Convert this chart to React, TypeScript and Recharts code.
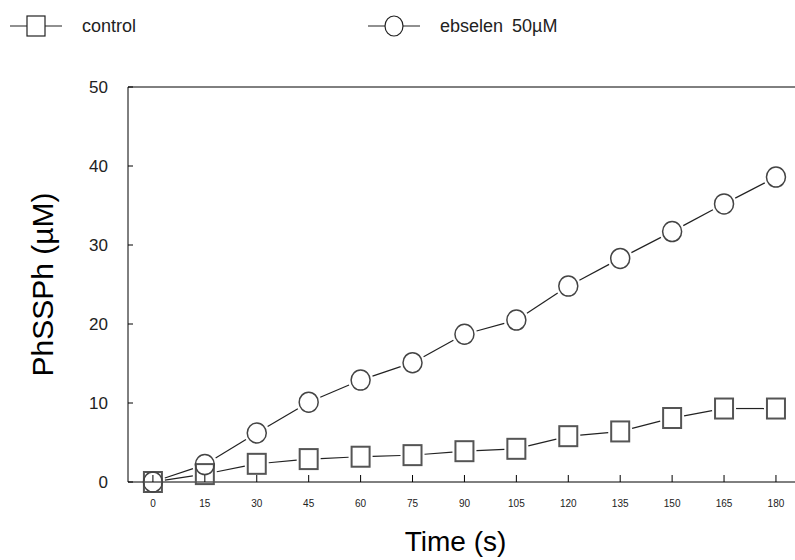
import React from 'react';
import { LineChart, Line, XAxis, YAxis, ReferenceLine } from 'recharts';

// time points (s)
const times = [0, 15, 30, 45, 60, 75, 90, 105, 120, 135, 150, 165, 180];
// PhSSPh (µM)
const controlValues = [0, 1.0, 2.3, 2.9, 3.2, 3.4, 3.9, 4.2, 5.8, 6.4, 8.1, 9.3, 9.3];
const ebselenValues = [0, 2.2, 6.2, 10.1, 12.9, 15.1, 18.7, 20.5, 24.8, 28.3, 31.7, 35.2, 38.6];

const xTicks = [0, 15, 30, 45, 60, 75, 90, 105, 120, 135, 150, 165, 180];
const yTicks = [0, 10, 20, 30, 40, 50];
const seriesNames = ['control', 'ebselen 50µM'];

const data = times.map((t, i) => ({ time: t, control: controlValues[i], ebselen: ebselenValues[i] }));

const FONT = '"Liberation Sans", Arial, sans-serif';
const GAP = 3;

// distance from marker centre to its outline along direction (ux, uy)
function edgeDist(kind: string, ux: number, uy: number) {
  if (kind === 'square') {
    const hw = 9, hh = 10;
    const a = ux ? hw / Math.abs(ux) : Infinity;
    const b = uy ? hh / Math.abs(uy) : Infinity;
    return Math.min(a, b);
  }
  const rx = 9.5, ry = 10;
  return 1 / Math.sqrt((ux * ux) / (rx * rx) + (uy * uy) / (ry * ry));
}

const Marker = ({ kind, cx, cy }) =>
  kind === 'square' ? (
    <rect x={cx - 9} y={cy - 10} width={18} height={20} fill="none" stroke="#555" strokeWidth={2} />
  ) : (
    <ellipse cx={cx} cy={cy} rx={9.5} ry={10} fill="none" stroke="#444" strokeWidth={1.5} />
  );

const makeDot = (kind: string) => (props: any) => {
  const { cx, cy, index, points } = props;
  if (cx == null || cy == null) return <g key={`${kind}-${index}`} />;
  let seg = null;
  const next = points && points[index + 1];
  if (next && next.x != null) {
    const dx = next.x - cx;
    const dy = next.y - cy;
    const len = Math.hypot(dx, dy);
    const ux = dx / len;
    const uy = dy / len;
    const d = edgeDist(kind, ux, uy) + GAP;
    if (len > 2 * d) {
      seg = (
        <line x1={cx + ux * d} y1={cy + uy * d} x2={next.x - ux * d} y2={next.y - uy * d}
          stroke="#222" strokeWidth={1.2} />
      );
    }
  }
  return (
    <g key={`${kind}-${index}`}>
      {seg}
      <Marker kind={kind} cx={cx} cy={cy} />
    </g>
  );
};

const YTick = ({ x, y, payload }) => (
  <g>
    <line x1={x + 20} y1={y} x2={x + 25} y2={y} stroke="#000" />
    <text x={x} y={y} textAnchor="end" dominantBaseline="central" fontSize={17} fontFamily={FONT} fill="#222">
      {payload.value}
    </text>
  </g>
);

const XTick = ({ x, y, payload }) => (
  <g>
    <line x1={x} y1={y - 21} x2={x} y2={y - 28} stroke="#000" />
    <text x={x} y={y} textAnchor="middle" dominantBaseline="central" fontSize={10} fontFamily={FONT} fill="#222">
      {payload.value}
    </text>
  </g>
);

const YTitle = ({ viewBox }) => {
  const cx = viewBox.x - 26;
  const cy = viewBox.y + viewBox.height / 2;
  return (
    <text x={cx} y={cy} transform={`rotate(-90 ${cx} ${cy})`} textAnchor="middle" dominantBaseline="central"
      fontSize={30} fontFamily={FONT} fill="#000">
      PhSSPh (µM)
    </text>
  );
};

const XTitle = ({ viewBox }) => (
  <text x={viewBox.x + viewBox.width / 2 - 6} y={551} textAnchor="middle" fontSize={28} fontFamily={FONT} fill="#000">
    Time (s)
  </text>
);

const LegendBar = () => {
  const items = [
    { name: seriesNames[0], kind: 'square', x: 10 },
    { name: seriesNames[1], kind: 'circle', x: 368 },
  ];
  return (
    <svg width={795} height={50} style={{ position: 'absolute', left: 0, top: 0 }}>
      {items.map((it) => (
        <g key={it.name}>
          <line x1={it.x} y1={26} x2={it.x + 52} y2={26} stroke="#222" strokeWidth={1.2} />
          {it.kind === 'square' ? (
            <rect x={it.x + 17} y={16} width={18} height={20} fill="#fff" stroke="#222" strokeWidth={1.2} />
          ) : (
            <ellipse cx={it.x + 26} cy={26} rx={9} ry={10} fill="#fff" stroke="#222" strokeWidth={1.2} />
          )}
          <text x={it.x + 72} y={26} dominantBaseline="central" fontSize={18} fontFamily={FONT} fill="#222"
            wordSpacing={4}>
            {it.name}
          </text>
        </g>
      ))}
    </svg>
  );
};

export default function App() {
  return (
    <div style={{ position: 'absolute', left: 0, top: 0, width: 795, height: 560, background: '#fff' }}>
      <LineChart width={795} height={560} data={data} margin={{ top: 87, right: 0, bottom: 48, left: 68 }}>
        <XAxis
          dataKey="time"
          type="number"
          domain={[-7.2, 185.5]}
          ticks={xTicks}
          allowDataOverflow
          height={30}
          tickSize={0}
          tickMargin={21}
          tickLine={false}
          tick={XTick}
          axisLine={{ stroke: '#000' }}
          label={{ content: XTitle }}
        />
        <YAxis
          type="number"
          domain={[0, 50]}
          ticks={yTicks}
          width={60}
          tickSize={0}
          tickMargin={20}
          tickLine={false}
          tick={YTick}
          axisLine={{ stroke: '#000' }}
          label={{ content: YTitle }}
        />
        <ReferenceLine y={50} stroke="#000" ifOverflow="visible" />
        <Line dataKey="control" name={seriesNames[0]} stroke="none" dot={makeDot('square')} activeDot={false}
          isAnimationActive={false} />
        <Line dataKey="ebselen" name={seriesNames[1]} stroke="none" dot={makeDot('circle')} activeDot={false}
          isAnimationActive={false} />
      </LineChart>
      <LegendBar />
    </div>
  );
}
